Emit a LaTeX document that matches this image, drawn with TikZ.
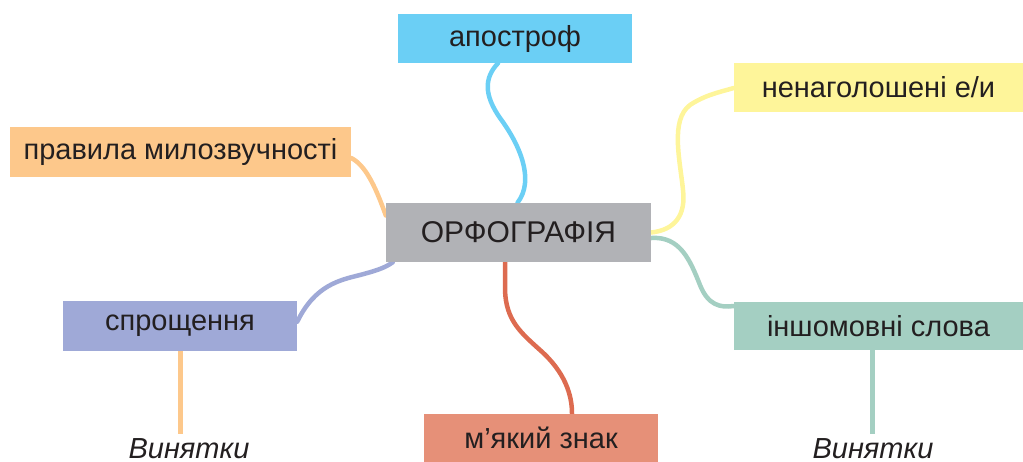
\documentclass[tikz,border=0pt]{standalone}
\usepackage{fontspec}
\setmainfont{Liberation Sans}
\pgfdeclarelayer{bg}
\pgfsetlayers{bg,main}
\definecolor{cBlue}{HTML}{6BCFF5}
\definecolor{cGray}{HTML}{B1B2B6}
\definecolor{cYellow}{HTML}{FEF59A}
\definecolor{cGreen}{HTML}{A4CFC2}
\definecolor{cOrange}{HTML}{FDC88B}
\definecolor{cPurple}{HTML}{9FA9D7}
\definecolor{cRedBox}{HTML}{E69078}
\definecolor{cRed}{HTML}{DD6B50}
\definecolor{cText}{HTML}{231F20}
\tikzset{
  box/.style={rectangle, inner sep=0pt, text=cText, font=\fontsize{29}{34}\selectfont},
  link/.style={line width=4.5pt, line cap=round},
  vlink/.style={line width=5pt},
  note/.style={inner sep=0pt, text=cText, font=\fontsize{29}{34}\selectfont\itshape, anchor=base}
}
\begin{document}
\begin{tikzpicture}[x=1pt, y=-1pt]
\useasboundingbox (0,0) rectangle (1023,461);
\node[box, fill=cBlue, minimum width=234pt, minimum height=49pt] (apo) at (515,38.5) {апостроф};
\node[box, fill=cGray, minimum width=265pt, minimum height=59pt, font=\fontsize{30}{35}\selectfont] (orf) at (518.5,232.5) {ОРФОГРАФІЯ};
\node[box, fill=cYellow, minimum width=289pt, minimum height=49pt] (nen) at (878.5,87.5) {ненаголошені е/и};
\node[box, fill=cGreen, minimum width=289pt, minimum height=48pt] (insh) at (878.5,326) {іншомовні слова};
\node[box, fill=cOrange, minimum width=341pt, minimum height=50pt] (prav) at (180.5,152) {правила милозвучності};
\node[box, fill=cPurple, minimum width=234pt, minimum height=50pt] (spr) at (180,326) {спрощення};
\node[box, fill=cRedBox, minimum width=234pt, minimum height=49pt] (mz) at (541,438) {м’який знак};
\node[note] (vl) at (189,458) {Винятки};
\node[note] (vr) at (873,458) {Винятки};
\coordinate (vlt) at (180,434);
\coordinate (vrt) at (872,434);
\begin{pgfonlayer}{bg}
\draw[link, cBlue] ([xshift=-17pt]apo.south) .. controls (484,78) and (484,95) .. (500,118) .. controls (520,145) and (535,180) .. ([xshift=-1pt]orf.north);
\draw[link, cYellow] ([yshift=0pt]orf.east) .. controls (675,230) and (686,215) .. (683,190) .. controls (680,160) and (670,120) .. (690,105) .. controls (705,95) and (720,92) .. ([yshift=-0.5pt]nen.west);
\draw[link, cGreen] ([yshift=-5.5pt]orf.east) .. controls (680,236) and (690,260) .. (700,285) .. controls (708,305) and (720,308) .. ([yshift=20pt]insh.west);
\draw[link, cOrange] ([yshift=-6pt]prav.east) .. controls (365,165) and (375,185) .. ([yshift=17pt]orf.west);
\draw[link, cPurple] ([yshift=-21pt]spr.north east) .. controls (315,285) and (340,280) .. (360,275) .. controls (375,271) and (385,268) .. ([xshift=7pt]orf.south west);
\draw[link, cRed] ([xshift=-13.5pt]orf.south) -- (505,290) .. controls (506,320) and (520,332) .. (540,350) .. controls (565,372) and (572,395) .. ([xshift=31pt]mz.north);
\draw[vlink, cOrange] (spr.south) -- (vlt);
\draw[vlink, cGreen] ([xshift=-6.5pt]insh.south) -- (vrt);
\end{pgfonlayer}
\end{tikzpicture}
\end{document}
